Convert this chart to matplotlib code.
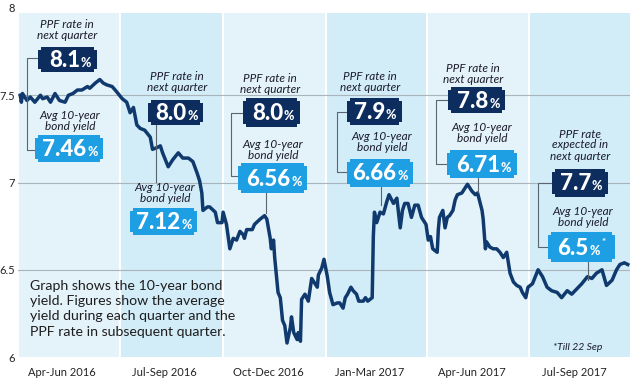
import matplotlib
matplotlib.use("Agg")
import matplotlib.pyplot as plt
from matplotlib.patches import Polygon
from matplotlib.lines import Line2D

plt.rcParams['font.family'] = ['Lato', 'DejaVu Sans']

# quarters, and their edges in days from 1 Apr 2016
quarters = ["Apr-Jun 2016", "Jul-Sep 2016", "Oct-Dec 2016",
            "Jan-Mar 2017", "Apr-Jun 2017", "Jul-Sep 2017"]
quarter_edges = [0, 91, 183, 275, 365, 456, 548]
ppf_next = ["8.1", "8.0", "8.0", "7.9", "7.8", "7.7"]
avg_yield = ["7.46", "7.12", "6.56", "6.66", "6.71", "6.5"]

# 10-year bond yield (days from 1 Apr 2016)
days = [2, 3, 4, 8, 11, 15, 20, 22, 26, 29, 33, 37, 42, 45, 49, 53, 57, 62, 64, 69, 73, 76, 79, 84, 88, 93,
        97, 100, 103, 106, 109, 113, 118, 120, 124, 127, 129, 134, 138, 143, 147, 152, 156, 160, 162, 164,
        165, 169, 171, 176, 178, 182,
        183, 186, 189, 192, 195, 198, 201, 202, 204, 209, 211, 216, 220, 222, 225, 226, 228, 229, 232, 234,
        236, 238, 240, 243, 244, 246, 249, 250, 252, 253, 256, 259, 262, 264, 267, 268, 271, 273,
        276, 278, 281, 285, 287, 290, 292, 294, 297, 299, 302, 304, 308, 310, 312, 316, 317, 318, 320, 323,
        326, 329, 331, 335, 336, 338, 341, 343, 345, 348, 351, 354, 357, 360,
        364, 366, 368, 370, 374, 375, 376, 379, 381, 383, 385, 388, 390, 392, 396, 399, 401, 405, 408, 410,
        414, 415, 417, 418, 421, 424, 427, 430, 433, 436, 439, 442, 445, 448, 450, 453,
        455, 459, 464, 468, 472, 476, 481, 485, 490, 494, 497, 503, 508, 512, 516, 521, 525, 530, 534, 537,
        541, 544]
yield_10y = [7.50, 7.46, 7.51, 7.47, 7.49, 7.46, 7.50, 7.48, 7.49, 7.46, 7.51, 7.47, 7.46, 7.50, 7.51, 7.53,
             7.53, 7.55, 7.54, 7.57, 7.59, 7.57, 7.56, 7.55, 7.52, 7.48,
             7.46, 7.40, 7.43, 7.33, 7.31, 7.30, 7.26, 7.19, 7.20, 7.21, 7.17, 7.09, 7.13, 7.17, 7.14, 7.14,
             7.12, 7.05, 7.01, 6.94, 6.84, 6.86, 6.86, 6.83, 6.77, 6.77,
             6.83, 6.76, 6.62, 6.68, 6.67, 6.72, 6.70, 6.68, 6.73, 6.73, 6.76, 6.79, 6.81, 6.79, 6.68, 6.62,
             6.67, 6.57, 6.37, 6.34, 6.21, 6.18, 6.08, 6.17, 6.23, 6.14, 6.10, 6.14, 6.09, 6.33, 6.36, 6.32,
             6.45, 6.43, 6.40, 6.47, 6.51, 6.56,
             6.46, 6.37, 6.30, 6.31, 6.31, 6.28, 6.34, 6.36, 6.40, 6.38, 6.36, 6.32, 6.32, 6.34, 6.32, 6.34,
             6.69, 6.83, 6.77, 6.83, 6.82, 6.89, 6.93, 6.88, 6.89, 6.91, 6.74, 6.84, 6.88, 6.88, 6.80, 6.87,
             6.87, 6.80,
             6.76, 6.67, 6.69, 6.62, 6.60, 6.73, 6.80, 6.84, 6.74, 6.80, 6.81, 6.84, 6.90, 6.93, 6.94, 6.97,
             6.99, 6.95, 6.93, 6.94, 6.84, 6.79, 6.62, 6.66, 6.63, 6.62, 6.62, 6.60, 6.57, 6.60, 6.48, 6.43,
             6.41, 6.40, 6.37, 6.34,
             6.40, 6.42, 6.50, 6.46, 6.40, 6.38, 6.37, 6.34, 6.38, 6.36, 6.38, 6.42, 6.46, 6.45, 6.48, 6.50,
             6.41, 6.44, 6.50, 6.53, 6.54, 6.53]

W, H = 630, 385
DARK = '#0c2d5e'
LIGHT = '#1e9fe3'
LINE = '#103a6e'
TXT = '#1b1b2b'


def fx(x):
    return x / W


def fy(y):
    return 1 - y / H


fig = plt.figure(figsize=(W / 100, H / 100), dpi=100)
fig.patch.set_facecolor('white')
ax = fig.add_axes([fx(18), 28 / H, 612 / W, 349 / H])

band_cols = ['#e4f2fa', '#d2ecf8']
for i in range(len(quarters)):
    ax.axvspan(quarter_edges[i] + 1, quarter_edges[i + 1] - 1, ymax=0.985,
               color=band_cols[i % 2], lw=0, zorder=0)

for g in [6.5, 7, 7.5]:
    ax.axhline(g, color='#a9b4bb', lw=0.8, zorder=1)

ax.plot(days, yield_10y, color=LINE, lw=2.5, zorder=3, solid_joinstyle='round')

ax.set_xlim(0, 546)
ax.set_ylim(6, 8)
ax.set_yticks([6, 6.5, 7, 7.5, 8])
ax.set_yticklabels(['6', '6.5', '7', '7.5', '8'])
centers = [(quarter_edges[i] + quarter_edges[i + 1]) / 2 - 6 for i in range(len(quarters))]
ax.set_xticks(centers)
ax.set_xticklabels(quarters)
ax.tick_params(length=0, labelsize=8, colors='#222222')
ax.tick_params(axis='y', pad=2.5)
ax.tick_params(axis='x', pad=7)
for s in ax.spines.values():
    s.set_visible(False)
ax.set_facecolor('white')


def chamfer_box(x0, y0, x1, y1, color, c=3):
    # small notch cut into each corner
    pts = [(x0 + c, y0), (x1 - c, y0), (x1 - c, y0 + c), (x1, y0 + c), (x1, y1 - c),
           (x1 - c, y1 - c), (x1 - c, y1), (x0 + c, y1), (x0 + c, y1 - c), (x0, y1 - c),
           (x0, y0 + c), (x0 + c, y0 + c)]
    fig.add_artist(Polygon([(fx(a), fy(b)) for a, b in pts], closed=True,
                           transform=fig.transFigure, facecolor=color,
                           edgecolor='none', zorder=5))


def value_box(x0, y0, x1, y1, num, color, star=False):
    chamfer_box(x0, y0, x1, y1, color)
    base = (y0 + y1) / 2 + 7.5
    shift = 10 if star else 0
    fig.text(fx(x1 - 17 - shift), fy(base), num, ha='right', va='baseline',
             color='white', fontsize=16, fontweight='black', zorder=6)
    fig.text(fx(x1 - 16 - shift), fy(base), '%', ha='left', va='baseline',
             color='white', fontsize=9, fontweight='black', zorder=6)
    if star:
        fig.text(fx(x1 - 13), fy(base - 10), '*', ha='left', va='baseline',
                 color='white', fontsize=7, fontweight='bold', zorder=6)


def note(x, y, s):
    fig.text(fx(x), fy(y), s, ha='center', va='center', fontsize=8.5,
             style='italic', color=TXT, linespacing=1.0, zorder=6)


def leader(pts):
    fig.add_artist(Line2D([fx(a) for a, b in pts], [fy(b) for a, b in pts],
                          transform=fig.transFigure, color='#5a6570', lw=0.8, zorder=4))


ppf_txt = "PPF rate in\nnext quarter"
avg_txt = "Avg 10-year\nbond yield"

# Apr-Jun 2016
note(67, 30, ppf_txt)
value_box(38, 47, 97, 72, ppf_next[0], DARK)
note(70, 121, avg_txt)
value_box(35, 135, 103, 162, avg_yield[0], LIGHT)
leader([(38, 58), (27, 58), (27, 150), (35, 150)])

# Jul-Sep 2016
note(177, 82, ppf_txt)
value_box(148, 100, 203, 125, ppf_next[1], DARK)
leader([(156, 125), (156, 182)])
note(165, 193, avg_txt)
value_box(130, 208, 197, 235, avg_yield[1], LIGHT)

# Oct-Dec 2016
note(270, 84, ppf_txt)
value_box(243, 98, 300, 127, ppf_next[2], DARK)
note(273, 150, avg_txt)
value_box(238, 163, 307, 193, avg_yield[2], LIGHT)
leader([(243, 113), (231, 113), (231, 176), (238, 176)])
leader([(266, 193), (266, 213)])

# Jan-Mar 2017
note(370, 82, ppf_txt)
value_box(347, 98, 402, 125, ppf_next[3], DARK)
note(382, 142, avg_txt)
value_box(347, 159, 413, 187, avg_yield[3], LIGHT)
leader([(347, 112), (337, 112), (337, 172), (347, 172)])
leader([(381, 187), (381, 205)])

# Apr-Jun 2017
note(473, 74, ppf_txt)
value_box(448, 87, 505, 113, ppf_next[4], DARK)
note(482, 133, avg_txt)
value_box(447, 150, 517, 178, avg_yield[4], LIGHT)
leader([(448, 100), (436, 100), (436, 164), (447, 164)])
leader([(478, 178), (478, 192)])

# Jul-Sep 2017
note(580, 145, "PPF rate\nexpected in\nnext quarter")
value_box(552, 169, 608, 197, ppf_next[5], DARK)
note(583, 217, avg_txt)
value_box(548, 232, 615, 262, avg_yield[5], LIGHT, star=True)
leader([(552, 183), (538, 183), (538, 247), (548, 247)])
leader([(588, 262), (588, 280)])

fig.text(fx(30), fy(280), "Graph shows the 10-year bond\nyield. Figures show the average\n"
         "yield during each quarter and the\nPPF rate in subsequent quarter.",
         ha='left', va='top', fontsize=10.2, color='#1e1e1e', linespacing=1.32, zorder=6)
fig.text(fx(578), fy(347), "*Till 22 Sep", ha='center', va='center', fontsize=7.5,
         style='italic', color=TXT, zorder=6)

fig.savefig('out.png', dpi=100)
